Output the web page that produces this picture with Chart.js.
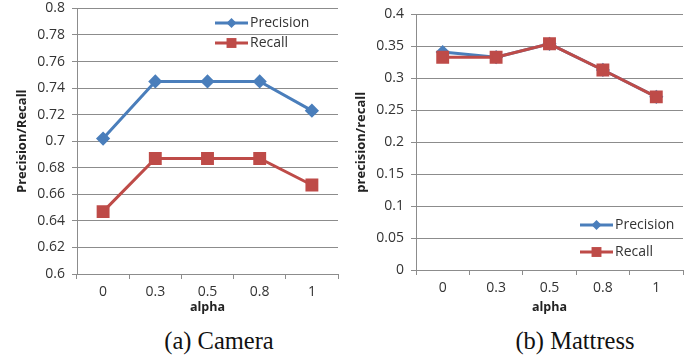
<!DOCTYPE html>
<html><head><meta charset="utf-8">
<script src="https://cdn.jsdelivr.net/npm/chart.js@4/dist/chart.umd.min.js"></script>
<style>
html,body{margin:0;padding:0;background:#fff;width:696px;height:358px;overflow:hidden;}
.wrap{position:absolute;width:348px;}
.cap{position:absolute;top:327px;font-family:"Liberation Serif","Times New Roman",serif;font-size:24.5px;color:#111;white-space:nowrap;transform:translateX(-50%);}
</style></head><body>
<div class="wrap" style="left:0;top:-7px;height:327px"><canvas id="c1" width="348" height="327"></canvas></div>
<div class="wrap" style="left:348px;top:-1px;height:321px"><canvas id="c2" width="348" height="321"></canvas></div>
<div class="cap" style="left:219px">(a) Camera</div>
<div class="cap" style="left:575px">(b) Mattress</div>
<script>
const alphaLabels = ["0", "0.3", "0.5", "0.8", "1"];
const cameraPrecision = [0.702, 0.745, 0.745, 0.745, 0.723];
const cameraRecall    = [0.647, 0.687, 0.687, 0.687, 0.667];
const mattressPrecision = [0.341, 0.333, 0.354, 0.313, 0.271];
const mattressRecall    = [0.333, 0.333, 0.354, 0.313, 0.271];
const seriesNames = ["Precision", "Recall"];

const BLUE = "#4A7EBB", RED = "#BE4B48";
const GRID = "#8c8c8c";
const FONT = '"Open Sans", "Liberation Sans", sans-serif';

function legendPlugin(pos) {
  return {
    id: 'lineLegend',
    afterDraw(chart) {
      const ctx = chart.ctx;
      ctx.save();
      chart.data.datasets.forEach((ds, i) => {
        const p = pos[i];
        ctx.strokeStyle = ds.borderColor;
        ctx.lineWidth = 3;
        ctx.beginPath(); ctx.moveTo(p.x, p.y); ctx.lineTo(p.x + 33, p.y); ctx.stroke();
        ctx.fillStyle = ds.pointBackgroundColor;
        ctx.beginPath();
        const r = ds.pointRadius, cx = p.x + 16.5;
        if (ds.pointStyle === 'rect') { const s = r * Math.SQRT1_2; ctx.rect(cx - s, p.y - s, 2 * s, 2 * s); }
        else { ctx.moveTo(cx - r, p.y); ctx.lineTo(cx, p.y - r); ctx.lineTo(cx + r, p.y); ctx.lineTo(cx, p.y + r); ctx.closePath(); }
        ctx.fill();
        ctx.fillStyle = "#333";
        ctx.font = '14px ' + FONT;
        ctx.textBaseline = 'middle';
        ctx.fillText(ds.label, p.x + 35, p.y);
      });
      ctx.restore();
    }
  };
}

function makeChart(id, prec, rec, yMin, yMax, yStep, yTitle, geom, legendPos, decimals) {
  const datasets = [
    {label: seriesNames[0], data: prec, borderColor: BLUE, backgroundColor: BLUE, pointBackgroundColor: BLUE, pointBorderColor: BLUE,
     pointStyle: 'rectRot', pointRadius: 5, borderWidth: 3, order: 1},
    {label: seriesNames[1], data: rec, borderColor: RED, backgroundColor: RED, pointBackgroundColor: RED, pointBorderColor: RED,
     pointStyle: 'rect', pointRadius: 7, borderWidth: 3, order: 0}
  ];
  return new Chart(document.getElementById(id), {
    type: 'line',
    data: {labels: alphaLabels, datasets},
    options: {
      responsive: false, animation: false, devicePixelRatio: 1,
      layout: {padding: {top: geom.top, right: geom.right, left: 0, bottom: 0}},
      plugins: {legend: {display: false}, tooltip: {enabled: false}},
      elements: {line: {tension: 0}},
      scales: {
        x: {
          offset: true,
          grid: {display: true, drawOnChartArea: false, drawTicks: true, tickLength: 5, color: GRID, offset: true},
          border: {display: true, color: GRID, width: 1},
          ticks: {color: "#333", font: {family: FONT, size: 14}, padding: 5, maxRotation: 0},
          title: {display: true, text: 'alpha', color: "#222", font: {family: FONT, size: 12.5, weight: 'bold'}, padding: {top: 0, bottom: geom.titleBottom}},
          afterFit(s) { s.height = geom.xh; }
        },
        y: {
          min: yMin, max: yMax,
          grid: {color: GRID, tickLength: 5, drawTicks: true},
          border: {display: true, color: GRID, width: 1},
          ticks: {stepSize: yStep, color: "#333", font: {family: FONT, size: 14}, padding: 7,
                  callback: v => String(+v.toFixed(decimals))},
          title: {display: true, text: yTitle, color: "#222", font: {family: FONT, size: 13, weight: 'bold'}, padding: {top: geom.titleLeft, bottom: 0}},
          afterFit(s) { s.width = geom.yw; }
        }
      }
    },
    plugins: [legendPlugin(legendPos)]
  });
}

makeChart('c1', cameraPrecision, cameraRecall, 0.6, 0.8, 0.02, 'Precision/Recall',
  {top: 0, right: 7, xh: 46, yw: 77, titleBottom: 5, titleLeft: 14},
  [{x: 215, y: 30}, {x: 215, y: 50}], 2);
makeChart('c2', mattressPrecision, mattressRecall, 0, 0.4, 0.05, 'precision/recall',
  {top: 12, right: 13, xh: 50, yw: 68, titleBottom: 5, titleLeft: 5},
  [{x: 232, y: 226}, {x: 232, y: 253}], 2);
</script>
</body></html>
